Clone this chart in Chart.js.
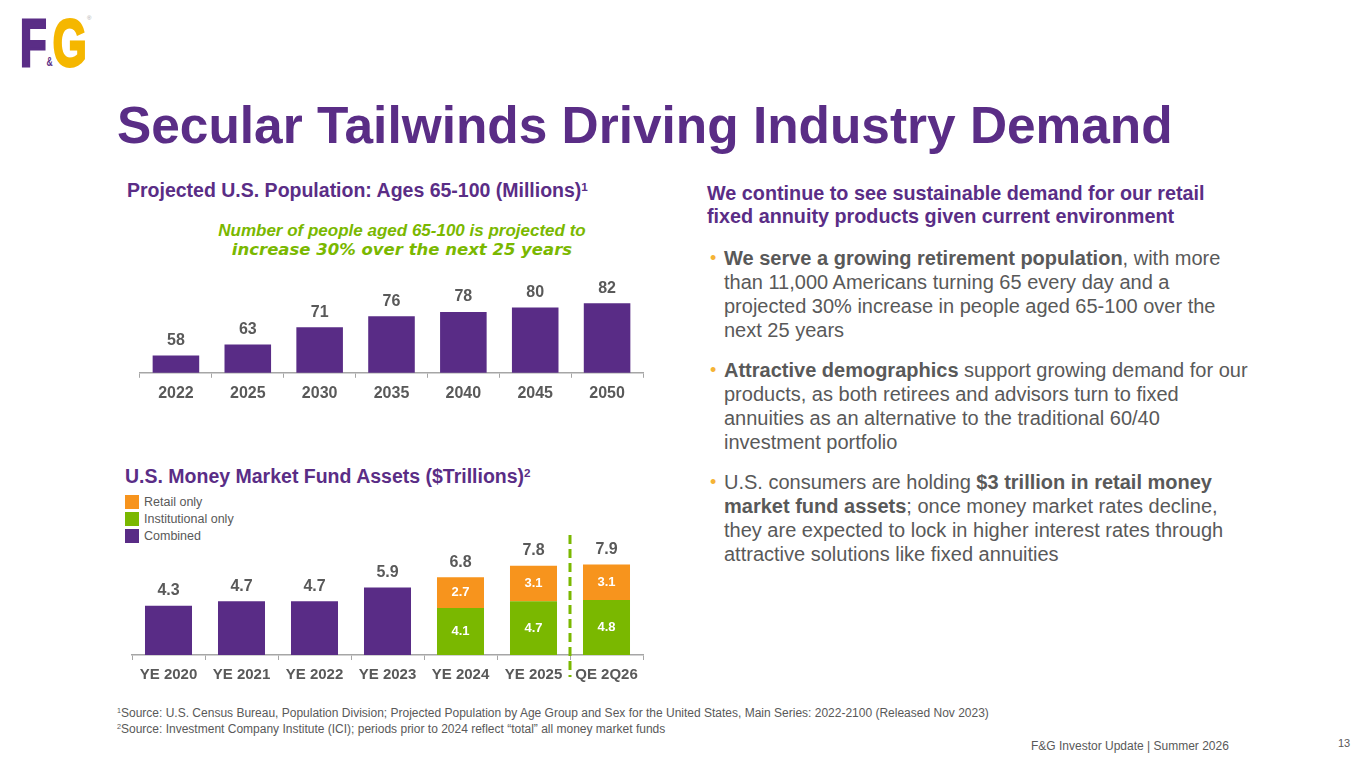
<!DOCTYPE html>
<html>
<head>
<meta charset="utf-8">
<script src="https://cdn.jsdelivr.net/npm/chart.js@4.4.1/dist/chart.umd.min.js"></script>
<style>
  html, body { margin:0; padding:0; background:#fff; }
  body { width:1365px; height:768px; position:relative; overflow:hidden; font-family:"Liberation Sans", Arial, sans-serif; color:#595959; }
  .abs { position:absolute; white-space:nowrap; }
  .h2 { font-weight:bold; font-size:19.5px; line-height:19.5px; color:#5A2D86; }
  .bul { position:absolute; left:707px; font-size:20px; line-height:24px; color:#595959; white-space:nowrap; }
  .bul .dot { position:absolute; left:3px; top:0; color:#F5B335; font-size:18px; }
  .bul .txt { position:absolute; left:17px; top:0; }
  .leg { position:absolute; left:125px; font-size:12.5px; line-height:14px; color:#595959; white-space:nowrap; }
  .leg i { display:inline-block; width:14px; height:14px; vertical-align:top; margin-right:5px; }
  sup { font-size:60%; line-height:0; vertical-align:0.55em; }
</style>
</head>
<body>
<!-- logo -->
<div class="abs" style="left:20px;top:10px;font-weight:bold;font-size:66px;line-height:66px;transform:scaleX(0.66);transform-origin:0 0;"><span style="color:#5A2D86;-webkit-text-stroke:3px #5A2D86;">F</span><span style="color:#5A2D86;font-size:13px;">&amp;</span><span style="color:#F5B700;-webkit-text-stroke:3px #F5B700;">G</span></div>
<div class="abs" style="left:87px;top:15px;font-size:6px;line-height:6px;color:#aaa;">®</div>

<div class="abs" style="left:117px;top:100px;font-weight:bold;font-size:51.4px;line-height:51.4px;color:#5A2D86;">Secular Tailwinds Driving Industry Demand</div>

<!-- left top heading -->
<div class="abs h2" style="left:127px;top:181px;">Projected U.S. Population: Ages 65-100 (Millions)<sup>1</sup></div>
<div class="abs" style="left:0;width:804px;text-align:center;top:222px;font-weight:bold;font-style:italic;font-size:17px;line-height:17px;color:#7AB800;">Number of people aged 65-100 is projected to</div>
<div class="abs" style="left:0;width:804px;text-align:center;top:241px;font-family:'DejaVu Sans';font-weight:bold;font-style:italic;font-size:16.5px;line-height:17px;color:#7AB800;">increase 30% over the next 25 years</div>

<canvas id="popChart" class="abs" width="540" height="140" style="left:120px;top:277px;width:540px;height:140px;"></canvas>

<!-- left bottom heading -->
<div class="abs h2" style="left:125px;top:467px;">U.S. Money Market Fund Assets ($Trillions)<sup>2</sup></div>
<div class="leg" style="top:495px;"><i style="background:#F7941D"></i>Retail only</div>
<div class="leg" style="top:512px;"><i style="background:#7AB800"></i>Institutional only</div>
<div class="leg" style="top:529px;"><i style="background:#592C86"></i>Combined</div>

<canvas id="mmfChart" class="abs" width="545" height="165" style="left:115px;top:533px;width:545px;height:165px;"></canvas>

<!-- right text -->
<div class="abs h2" style="left:707px;top:182px;font-size:19.8px;line-height:23px;">We continue to see sustainable demand for our retail<br>fixed annuity products given current environment</div>

<div class="bul" style="top:246px;"><span class="dot">•</span><div class="txt"><b>We serve a growing retirement population</b>, with more<br>than 11,000 Americans turning 65 every day and a<br>projected 30% increase in people aged 65-100 over the<br>next 25 years</div></div>
<div class="bul" style="top:358px;"><span class="dot">•</span><div class="txt"><b>Attractive demographics</b> support growing demand for our<br>products, as both retirees and advisors turn to fixed<br>annuities as an alternative to the traditional 60/40<br>investment portfolio</div></div>
<div class="bul" style="top:470px;"><span class="dot">•</span><div class="txt">U.S. consumers are holding <b>$3 trillion in retail money<br>market fund assets</b>; once money market rates decline,<br>they are expected to lock in higher interest rates through<br>attractive solutions like fixed annuities</div></div>

<!-- footnotes -->
<div class="abs" style="left:117px;top:706px;font-size:12px;line-height:14px;color:#595959;"><sup>1</sup>Source: U.S. Census Bureau, Population Division; Projected Population by Age Group and Sex for the United States, Main Series: 2022-2100 (Released Nov 2023)</div>
<div class="abs" style="left:117px;top:722px;font-size:12px;line-height:14px;color:#595959;"><sup>2</sup>Source: Investment Company Institute (ICI); periods prior to 2024 reflect “total” all money market funds</div>
<div class="abs" style="left:1031px;top:739px;font-size:12px;line-height:14px;color:#595959;">F&amp;G Investor Update | Summer 2026</div>
<div class="abs" style="left:1338px;top:737px;font-size:11px;line-height:13px;color:#595959;">13</div>

<script>
// ---- data ----
const popYears = ['2022', '2025', '2030', '2035', '2040', '2045', '2050'];
const popValues = [58, 63, 71, 76, 78, 80, 82];

const mmfPeriods = ['YE 2020', 'YE 2021', 'YE 2022', 'YE 2023', 'YE 2024', 'YE 2025', 'QE 2Q26'];
const mmfCombined = [4.3, 4.7, 4.7, 5.9, null, null, null];
const mmfInstitutional = [null, null, null, null, 4.1, 4.7, 4.8];
const mmfRetail = [null, null, null, null, 2.7, 3.1, 3.1];
const mmfTotals = [4.3, 4.7, 4.7, 5.9, 6.8, 7.8, 7.9];

const PURPLE = '#592C86', GREEN = '#7AB800', ORANGE = '#F7941D', GRAY = '#595959', AXIS = '#A6A6A6';
const FONT = "'Liberation Sans', Arial, sans-serif";

function totalLabelPlugin(values, decimals, fontPx, offset) {
  return {
    id: 'totalLabels',
    afterDatasetsDraw(chart) {
      const { ctx, scales: { x, y } } = chart;
      ctx.save();
      ctx.font = 'bold ' + fontPx + 'px ' + FONT;
      ctx.fillStyle = GRAY;
      ctx.textAlign = 'center';
      ctx.textBaseline = 'middle';
      values.forEach((v, i) => {
        if (v == null) return;
        ctx.fillText(v.toFixed(decimals), x.getPixelForValue(i), y.getPixelForValue(v) - offset);
      });
      ctx.restore();
    }
  };
}

const segmentLabels = {
  id: 'segmentLabels',
  afterDatasetsDraw(chart) {
    const { ctx } = chart;
    ctx.save();
    ctx.font = 'bold 13px ' + FONT;
    ctx.fillStyle = '#FFFFFF';
    ctx.textAlign = 'center';
    ctx.textBaseline = 'middle';
    [1, 2].forEach(di => {
      const ds = chart.data.datasets[di];
      chart.getDatasetMeta(di).data.forEach((el, i) => {
        const v = ds.data[i];
        if (v == null) return;
        ctx.fillText(v.toFixed(1), el.x, (el.y + el.base) / 2);
      });
    });
    ctx.restore();
  }
};

const dividerLine = {
  id: 'dividerLine',
  afterDraw(chart) {
    const { ctx, chartArea, scales: { x } } = chart;
    const xp = (x.getPixelForValue(5) + x.getPixelForValue(6)) / 2;
    ctx.save();
    ctx.strokeStyle = GREEN;
    ctx.lineWidth = 3;
    ctx.setLineDash([9, 5]);
    ctx.beginPath();
    ctx.moveTo(xp, chartArea.top - 25);
    ctx.lineTo(xp, chartArea.bottom + 22);
    ctx.stroke();
    ctx.restore();
  }
};

function xAxis(fontPx, pad) {
  return {
    grid: { display: true, drawOnChartArea: false, drawTicks: true, tickLength: 5, color: AXIS, offset: true },
    border: { display: true, color: AXIS, width: 1.5 },
    ticks: { color: GRAY, font: { family: FONT, size: fontPx, weight: 'bold' }, padding: pad, maxRotation: 0, autoSkip: false }
  };
}

new Chart(document.getElementById('popChart'), {
  type: 'bar',
  data: {
    labels: popYears,
    datasets: [{ data: popValues, backgroundColor: PURPLE, categoryPercentage: 1, barPercentage: 0.648 }]
  },
  options: {
    responsive: false,
    animation: false,
    layout: { padding: { left: 20, right: 17, top: 11, bottom: 8 } },
    plugins: { legend: { display: false }, tooltip: { enabled: false } },
    scales: {
      x: xAxis(16, 6),
      y: { display: false, min: 50, max: 89 }
    }
  },
  plugins: [totalLabelPlugin(popValues, 0, 16, 15)]
});

new Chart(document.getElementById('mmfChart'), {
  type: 'bar',
  data: {
    labels: mmfPeriods,
    datasets: [
      { label: 'Combined', data: mmfCombined, backgroundColor: PURPLE, categoryPercentage: 1, barPercentage: 0.644 },
      { label: 'Institutional only', data: mmfInstitutional, backgroundColor: GREEN, categoryPercentage: 1, barPercentage: 0.644 },
      { label: 'Retail only', data: mmfRetail, backgroundColor: ORANGE, categoryPercentage: 1, barPercentage: 0.644 }
    ]
  },
  options: {
    responsive: false,
    animation: false,
    layout: { padding: { left: 17, right: 17, top: 27, bottom: 8 } },
    plugins: { legend: { display: false }, tooltip: { enabled: false } },
    scales: {
      x: Object.assign(xAxis(15, 6), { stacked: true }),
      y: { display: false, stacked: true, min: 0, max: 8.3 }
    }
  },
  plugins: [totalLabelPlugin(mmfTotals, 1, 16, 15), segmentLabels, dividerLine]
});
</script>
</body>
</html>
